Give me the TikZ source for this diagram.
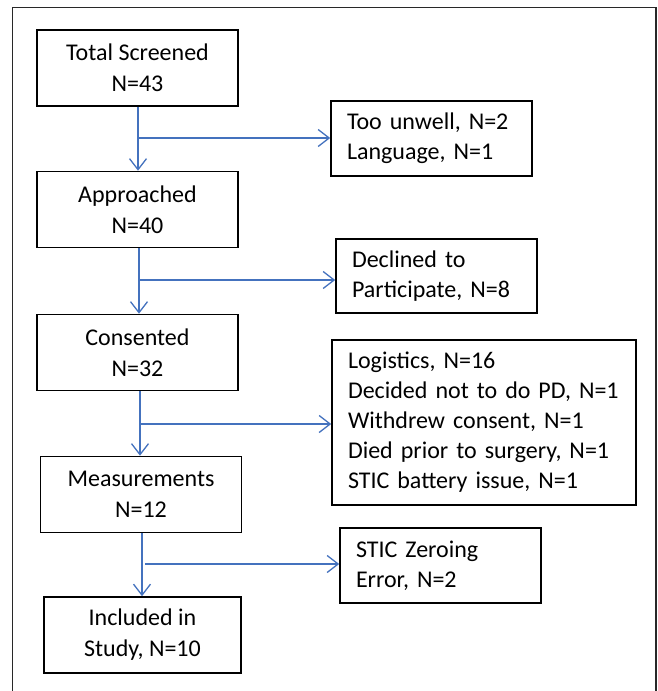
\documentclass[tikz,border=0pt]{standalone}
\usepackage{fontspec}
\setmainfont{Carlito}
\usetikzlibrary{arrows.meta}
\definecolor{arrblue}{RGB}{68,114,190}
\definecolor{framegray}{RGB}{40,40,40}
\begin{document}
\begin{tikzpicture}[x=1pt,y=-1pt,
  box/.style={draw=black, line width=1.6pt, minimum width=201pt, minimum height=76pt,
    align=center, font=\fontsize{24}{31}\selectfont, inner sep=0pt},
  side/.style={draw=black, line width=1.6pt, align=left, inner xsep=16pt, inner ysep=0pt,
    font=\fontsize{24}{30}\selectfont},
  arr/.style={draw=arrblue, line width=1.3pt, -{Straight Barb[length=11pt,width=17pt,line width=1.3pt]}},
  link/.style={draw=arrblue, line width=1.3pt}]
\useasboundingbox (0,0) rectangle (657,691);
\draw[framegray, line width=1.5pt] (12.5,720) -- (12.5,7.5) -- (656,7.5) -- (656,720);

\node[box] (b1) at (137.5,68) {Total Screened\\N=43};
\node[box] (b2) at (137.5,209.5) {Approached\\N=40};
\node[box] (b3) at (137.5,352.5) {Consented\\N=32};
\node[box] (b4) at (141,494.5) {Measurements\\N=12};
\node[box, minimum width=197pt] (b5) at (142.5,635) {Included in\\Study, N=10};

\node[side, text width=169pt, minimum height=75pt] (s1) at (431.5,138.5) {Too unwell, N=2\\Language, N=1};
\node[side, text width=169pt, minimum height=74pt] (s2) at (436.5,276) {Declined to\\Participate, N=8};
\node[side, text width=272pt, minimum height=165pt] (s3) at (484,422.5) {Logistics, N=16\\Decided not to do PD, N=1\\Withdrew consent, N=1\\Died prior to surgery, N=1\\STIC battery issue, N=1};
\node[side, text width=169pt, minimum height=75pt] (s4) at (440.5,565.5) {STIC Zeroing\\Error, N=2};

\coordinate (j1) at (138,138);
\coordinate (j2) at (139,280);
\coordinate (j3) at (140,424);
\coordinate (j4) at (142,564);
\coordinate (j4s) at (145,564);

\draw[arr] (b1.south -| j1) -- (b2.north -| j1);
\draw[arr] (b2.south -| j2) -- (b3.north -| j2);
\draw[arr] (b3.south -| j3) -- (b4.north -| j3);
\draw[arr] (b4.south -| j4) -- (b5.north -| j4);

\draw[arr] (j1) -- (s1.west |- j1);
\draw[arr] (j2) -- (s2.west |- j2);
\draw[arr] (j3) -- (s3.west |- j3);
\draw[arr] (j4s) -- (s4.west |- j4);
\end{tikzpicture}
\end{document}
